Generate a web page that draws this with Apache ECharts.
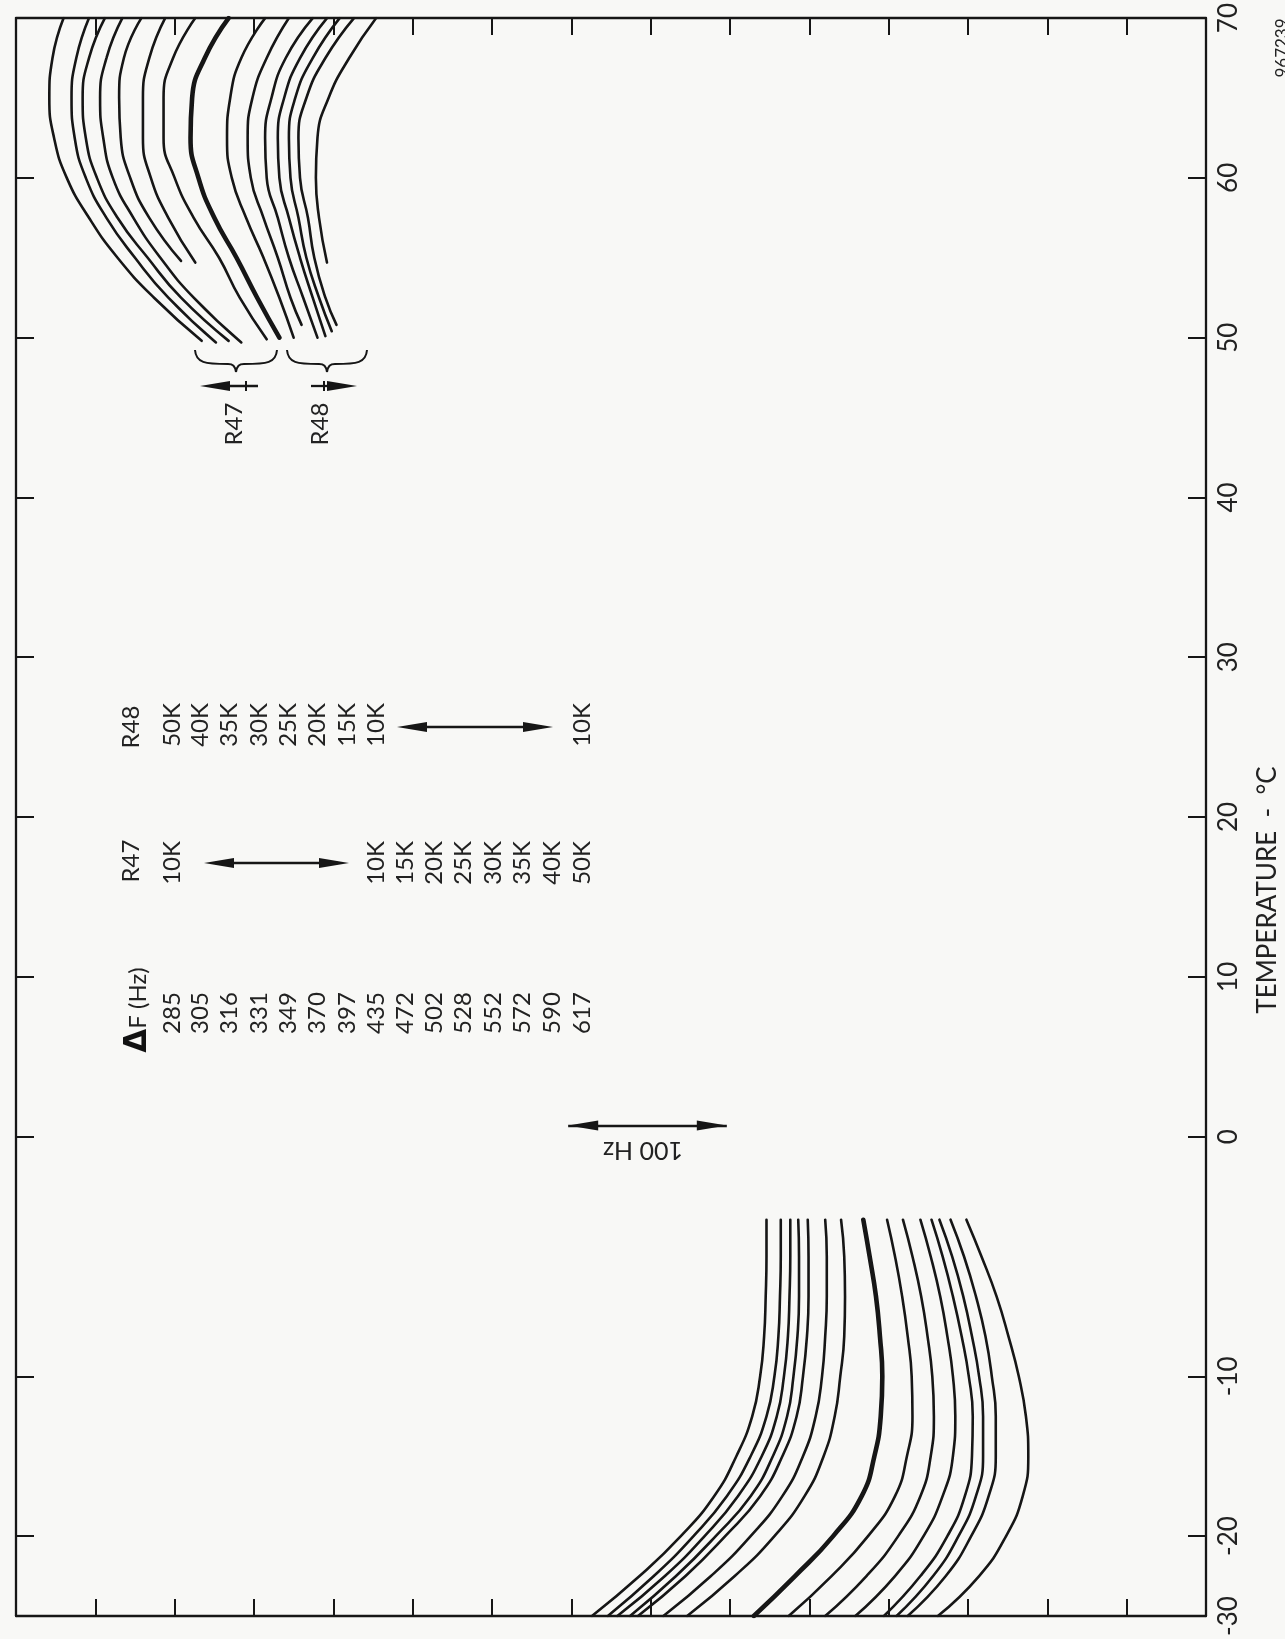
<!DOCTYPE html>
<html><head><meta charset="utf-8">
<script src="https://cdn.jsdelivr.net/npm/echarts@6.0.0/dist/echarts.min.js"></script>
<style>html,body{margin:0;padding:0;background:#f8f8f6;} #chart{width:1285px;height:1639px;}</style>
</head><body><div id="chart"></div>
<script>
// ---- Temperature axis (drawn vertically, reads bottom -> top) ----
const tempTickValues = [-30, -25, -15, 0, 10, 20, 30, 40, 50, 60, 70];
const tempTickLabels = ['-30', '-20', '-10', '0', '10', '20', '30', '40', '50', '60', '70'];

// ---- Hot end curves (T from 70 down to ~50 degC), frequency in Hz ----
const hotTemps = [
  [70, 67.5, 65, 62.5, 60, 57.5, 55, 52.5, 49.8],
  [70, 67.5, 65, 62.5, 60, 57.5, 55, 52.5, 49.7],
  [70, 67.5, 65, 62.5, 60, 57.5, 55, 52.5, 49.8],
  [70, 67.5, 65, 62.5, 60, 57.5, 55, 52.5, 49.7],
  [70, 67.5, 65, 62.5, 60, 57.5, 54.8],
  [70, 67.5, 65, 62.5, 60, 57.5, 54.7],
  [70, 67.5, 65, 62.5, 60, 57.5, 55, 52.5, 49.9],
  [70, 67.5, 65, 62.5, 60, 57.5, 55, 52.5, 50.0],
  [70, 67.5, 65, 62.5, 60, 57.5, 55, 52.5, 50.0],
  [70, 67.5, 65, 62.5, 60, 57.5, 55, 52.5, 50.8],
  [70, 67.5, 65, 62.5, 60, 57.5, 55, 52.5, 50.0],
  [70, 67.5, 65, 62.5, 60, 57.5, 55, 52.5, 50.1],
  [70, 67.5, 65, 62.5, 60, 57.5, 55, 52.5, 50.4],
  [70, 67.5, 65, 62.5, 60, 57.5, 55, 52.5, 50.8],
  [70, 67.5, 65, 62.5, 60, 57.5, 54.7]
];
const hotFreqs = [
  [720, 727, 729, 726, 718, 704, 686, 663, 633],
  [704, 712, 715, 713, 706, 693, 675, 654, 624],
  [694, 704, 708, 706, 699, 686, 667, 646, 616],
  [683, 693, 697, 695, 689, 676, 659, 638, 608],
  [671, 682, 685, 684, 678, 666, 646],
  [656, 666, 670, 670, 665, 654, 637],
  [637, 651, 657, 657, 650, 638, 622, 609, 592],
  [616, 631, 639, 640, 635, 625, 611, 598, 584],
  [593, 608, 615, 617, 614, 605, 594, 584, 575],
  [578, 592, 601, 604, 602, 594, 585, 577, 570],
  [563, 580, 589, 593, 592, 585, 578, 569, 560],
  [554, 571, 581, 585, 584, 578, 571, 563, 555],
  [546, 563, 574, 578, 577, 572, 567, 559, 551],
  [537, 555, 567, 572, 571, 566, 562, 555, 548],
  [523, 540, 553, 560, 561, 559, 554]
];

// ---- Cold end curves (T from ~-5 down to -30 degC) ----
const coldTemps = [-5.2, -7.5, -10, -12.5, -15, -17.5, -20, -22.5, -25, -27.5, -30];
const coldFreqs = [
  [277, 277, 277.5, 278.5, 281, 286, 296, 310, 331, 357, 387],
  [268, 268, 268.5, 269.5, 272, 277, 287, 302, 323, 348, 377],
  [262, 262, 262.5, 263.5, 266, 270.5, 280, 295, 316, 341, 371],
  [257, 256.5, 256.5, 257.5, 260, 264, 273, 287, 309, 334, 363],
  [251, 250.5, 250.5, 251.5, 254, 258, 267, 281, 303, 328, 358],
  [240, 239, 239, 240, 242, 246, 254, 267, 287, 312, 342],
  [230, 228, 227.5, 228, 230.5, 234, 241, 253, 272, 297, 327],
  [216, 212, 208, 205.5, 204, 205, 209, 217, 235, 259, 285],
  [201, 196, 191.5, 188, 185.5, 185, 188.5, 196, 213, 236, 263],
  [191, 185, 179.5, 175.5, 172.5, 171.5, 173.5, 180, 194, 214, 240],
  [180, 173.5, 167.5, 163, 159.5, 158, 159.5, 166, 178, 196, 221],
  [173, 166, 159.5, 154, 149.5, 147, 147.5, 152, 163, 180, 203],
  [168, 160, 153, 147.5, 143, 140.5, 140.5, 145, 156, 172, 195],
  [161, 152.5, 145, 139, 135, 132.5, 132.5, 137, 148, 164, 188],
  [151, 141.5, 132, 124.5, 118, 113.5, 112, 115.5, 126, 143, 169]
];
const thickCurveIndex = 7;

// ---- Legend table ----
const deltaF = ['285', '305', '316', '331', '349', '370', '397', '435', '472', '502', '528', '552', '572', '590', '617'];
const r47Values = ['10K', '', '', '', '', '', '', '10K', '15K', '20K', '25K', '30K', '35K', '40K', '50K'];
const r48Values = ['50K', '40K', '35K', '30K', '25K', '20K', '15K', '10K', '', '', '', '', '', '', '10K'];

// ---- 100 Hz scale bar ----
const scaleBarHz = [302, 402];
const scaleBarTemp = 0.7;

// ================= layout / styles =================
const FONT = 'Lato, "Open Sans", "DejaVu Sans", sans-serif';
const INK = '#161616';
const rowX = [172, 200, 229, 259, 288, 317, 347, 376, 405, 434, 463, 493, 522, 552, 582];
const LEG = 24;

function vtext(x, y, text, size, rot, rich) {
  const style = {
    text: text, fontSize: size, fontFamily: FONT, fill: '#222',
    align: 'center', verticalAlign: 'middle', textAlign: 'center', textVerticalAlign: 'middle'
  };
  if (rich) style.rich = rich;
  return { type: 'text', x: x, y: y, rotation: rot == null ? Math.PI / 2 : rot, silent: true, style: style };
}
function headLeft(x, y) { return { type: 'polygon', silent: true, shape: { points: [[x, y], [x + 30, y - 5], [x + 30, y + 5]] }, style: { fill: INK } }; }
function headRight(x, y) { return { type: 'polygon', silent: true, shape: { points: [[x, y], [x - 30, y - 5], [x - 30, y + 5]] }, style: { fill: INK } }; }
function hline(x1, x2, y, w) { return { type: 'line', silent: true, shape: { x1: x1, y1: y, x2: x2, y2: y }, style: { stroke: INK, lineWidth: w || 2.3 } }; }
function brace(x0, x1, yTop, yMid, yTip) {
  const c = (x0 + x1) / 2;
  const s = { stroke: INK, lineWidth: 2, fill: null };
  return [
    { type: 'bezierCurve', silent: true, shape: { x1: x0, y1: yTop, cpx1: x0 + 1, cpy1: yMid - 1, cpx2: x0 + 10, cpy2: yMid, x2: c - 8, y2: yMid }, style: s },
    { type: 'bezierCurve', silent: true, shape: { x1: c - 8, y1: yMid, cpx1: c - 3, cpy1: yMid, cpx2: c - 1, cpy2: yMid + 2, x2: c, y2: yTip }, style: s },
    { type: 'bezierCurve', silent: true, shape: { x1: c, y1: yTip, cpx1: c + 1, cpy1: yMid + 2, cpx2: c + 3, cpy2: yMid, x2: c + 8, y2: yMid }, style: s },
    { type: 'bezierCurve', silent: true, shape: { x1: c + 8, y1: yMid, cpx1: x1 - 10, cpy1: yMid, cpx2: x1 - 1, cpy2: yMid - 1, x2: x1, y2: yTop }, style: s }
  ];
}

const graphics = [];
// Legend headers
graphics.push(vtext(138, 1010, '{d|\u0394}F (Hz)', LEG, null, { d: { fontSize: 31, fontWeight: 'bold', fontFamily: 'DejaVu Sans', fill: '#111' } }));
graphics.push(vtext(131, 861, 'R47', LEG));
graphics.push(vtext(131, 727, 'R48', LEG));
deltaF.forEach((t, i) => graphics.push(vtext(rowX[i], 1013, t, LEG)));
r47Values.forEach((t, i) => { if (t) graphics.push(vtext(rowX[i], 863, t, LEG)); });
r48Values.forEach((t, i) => { if (t) graphics.push(vtext(rowX[i], 725, t, LEG)); });
// legend double arrows
graphics.push(hline(215, 338, 863), headLeft(204, 863), headRight(349, 863));
graphics.push(hline(408, 542, 727), headLeft(397, 727), headRight(553, 727));
// R47 / R48 braces and arrows near the hot curves
brace(195, 277, 350, 364, 372).forEach(g => graphics.push(g));
brace(287, 367, 350, 364, 372).forEach(g => graphics.push(g));
graphics.push(hline(215, 258, 386), headLeft(200, 386));
graphics.push({ type: 'line', silent: true, shape: { x1: 246, y1: 381, x2: 246, y2: 391 }, style: { stroke: INK, lineWidth: 2 } });
graphics.push(hline(311, 342, 386), headRight(357, 386));
graphics.push({ type: 'line', silent: true, shape: { x1: 324, y1: 381, x2: 324, y2: 391 }, style: { stroke: INK, lineWidth: 2 } });
graphics.push(vtext(234, 424, 'R47', LEG));
graphics.push(vtext(320, 424, 'R48', LEG));
// 100 Hz caption (upside down in the source)
graphics.push(vtext(643, 1150, '100 Hz', 25, Math.PI));
// axis title and figure number
graphics.push(vtext(1268, 890, 'TEMPERATURE  -  \u00B0C', 26));
graphics.push(vtext(1283, 48, '967239', 17));

// ================= series =================
const series = [];
hotFreqs.forEach((fs, i) => {
  series.push({
    type: 'line', silent: true, symbol: 'none', smooth: 0.5, animation: false,
    data: fs.map((f, j) => [f, hotTemps[i][j]]),
    lineStyle: { color: INK, width: i === thickCurveIndex ? 4.6 : 2.6, cap: 'round' }
  });
});
coldFreqs.forEach((fs, i) => {
  series.push({
    type: 'line', silent: true, symbol: 'none', smooth: 0.5, animation: false,
    data: fs.map((f, j) => [f, coldTemps[j]]),
    lineStyle: { color: INK, width: i === thickCurveIndex ? 4.6 : 2.6, cap: 'round' }
  });
});
series.push({
  type: 'line', silent: true, data: [], animation: false,
  markLine: {
    silent: true, animation: false,
    symbol: ['triangle', 'triangle'], symbolSize: [10, 30], symbolOffset: [[0, 15], [0, 15]],
    lineStyle: { color: INK, width: 2.4, type: 'solid' },
    label: { show: false },
    data: [[{ coord: [scaleBarHz[0], scaleBarTemp] }, { coord: [scaleBarHz[1], scaleBarTemp] }]]
  }
});

const axisLineStyle = { color: INK, width: 2.3 };
const freqAxis = (pos) => ({
  type: 'value', min: 0, max: 750, interval: 50, inverse: true, position: pos,
  axisLine: { show: true, onZero: false, lineStyle: axisLineStyle },
  axisTick: { show: true, inside: true, length: 17, lineStyle: { color: INK, width: 2 } },
  axisLabel: { show: false }, splitLine: { show: false }
});
const tempAxis = (pos, labels) => ({
  type: 'value', min: -30, max: 70, position: pos,
  axisLine: { show: true, onZero: false, lineStyle: axisLineStyle },
  axisTick: { show: true, inside: true, length: 18, customValues: tempTickValues, lineStyle: { color: INK, width: 2 } },
  axisLabel: labels ? {
    show: true, customValues: tempTickValues, rotate: 90, margin: 10,
    formatter: v => tempTickLabels[tempTickValues.indexOf(v)],
    fontSize: 26, fontFamily: FONT, color: '#222'
  } : { show: false },
  splitLine: { show: false }
});

const chart = echarts.init(document.getElementById('chart'), null, { renderer: 'canvas' });
chart.setOption({
  backgroundColor: '#f8f8f6',
  animation: false,
  grid: { left: 16, right: 79, top: 16, bottom: 23, containLabel: false },
  xAxis: [freqAxis('bottom'), freqAxis('top')],
  yAxis: [tempAxis('right', true), tempAxis('left', false)],
  series: series,
  graphic: { elements: graphics }
});
</script>
</body></html>
